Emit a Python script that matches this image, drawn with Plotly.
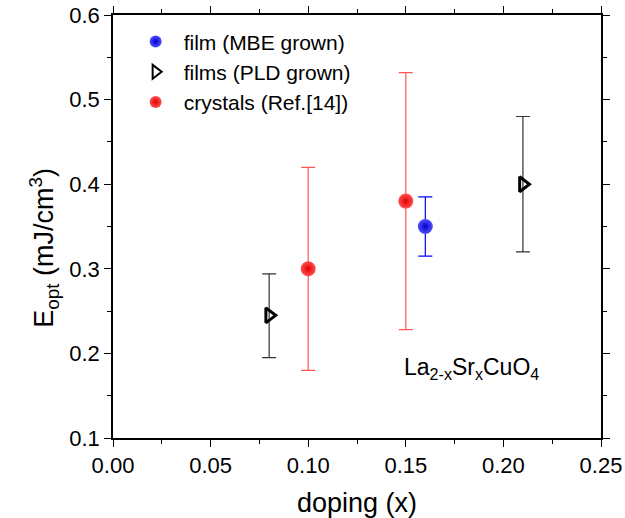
import plotly.graph_objects as go

# MBE film
mbe_x = [0.16]
mbe_y = [0.35]
mbe_lo = [0.315]
mbe_hi = [0.385]
# PLD films
pld_x = [0.08, 0.21]
pld_y = [0.245, 0.40]
pld_lo = [0.195, 0.32]
pld_hi = [0.294, 0.48]
# crystals
cry_x = [0.10, 0.15]
cry_y = [0.30, 0.38]
cry_lo = [0.18, 0.228]
cry_hi = [0.42, 0.532]

def errs(y, lo, hi):
    return [h - v for v, h in zip(y, hi)], [v - l for v, l in zip(y, lo)]

FONT = "Liberation Sans, Arial"

fig = go.Figure()
p, m = errs(mbe_y, mbe_lo, mbe_hi)
fig.add_trace(go.Scatter(x=mbe_x, y=mbe_y, mode="markers", name="film (MBE grown)",
    error_y=dict(type="data", array=p, arrayminus=m, color="#0000ff", thickness=1.2, width=7),
    marker=dict(size=15, color="#5050ff", gradient=dict(type="radial", color="#0000c8"),
                line=dict(width=0))))
p, m = errs(pld_y, pld_lo, pld_hi)
fig.add_trace(go.Scatter(x=pld_x, y=pld_y, mode="markers", name="films (PLD grown)",
    error_y=dict(type="data", array=p, arrayminus=m, color="#333333", thickness=1.2, width=7),
    marker=dict(symbol="triangle-right-open", size=13, color="black", line=dict(width=3, color="black"))))
p, m = errs(cry_y, cry_lo, cry_hi)
fig.add_trace(go.Scatter(x=cry_x, y=cry_y, mode="markers", name="crystals (Ref.[14])",
    error_y=dict(type="data", array=p, arrayminus=m, color="#ff5555", thickness=1.2, width=7),
    marker=dict(size=15, color="#ff5050", gradient=dict(type="radial", color="#e00000"),
                line=dict(width=0))))

axis_common = dict(showline=True, linecolor="black", linewidth=1.5, mirror="ticks",
                   ticks="outside", ticklen=7, tickwidth=1.3, tickcolor="black",
                   showgrid=False, zeroline=False, automargin=False,
                   tickfont=dict(family=FONT, size=22, color="black"))

fig.update_xaxes(range=[0, 0.25], dtick=0.05, tickformat=".2f",
                 minor=dict(ticks="outside", dtick=0.025, ticklen=4, tickcolor="black", tickwidth=1.3),
                 title=dict(text="doping (x)", font=dict(family=FONT, size=27, color="black"), standoff=27),
                 **axis_common)
fig.update_yaxes(range=[0.1, 0.6], dtick=0.1, tickformat=".1f",
                 minor=dict(ticks="outside", dtick=0.05, ticklen=4, tickcolor="black", tickwidth=1.3),
                 **axis_common)

fig.add_annotation(x=-0.143, y=0.45, xref="paper", yref="paper", xanchor="center", yanchor="middle",
                   text="E<sub>opt</sub> (mJ/cm<sup>3</sup>)", showarrow=False, textangle=-90,
                   font=dict(family=FONT, size=27, color="black"))

fig.add_annotation(x=0.735, y=0.165, xref="paper", yref="paper", xanchor="center", yanchor="middle",
                   text="La<sub>2-x</sub>Sr<sub>x</sub>CuO<sub>4</sub>", showarrow=False,
                   font=dict(family=FONT, size=23, color="black"))

fig.update_layout(width=625, height=518, plot_bgcolor="white", paper_bgcolor="white",
                  margin=dict(l=113, r=24, t=15, b=80),
                  showlegend=True,
                  legend=dict(x=0.03, y=0.985, xanchor="left", yanchor="top", itemwidth=46,
                              bgcolor="rgba(0,0,0,0)", tracegroupgap=0, itemsizing="constant",
                              font=dict(family=FONT, size=21, color="black")))

fig.write_html("out.html")
